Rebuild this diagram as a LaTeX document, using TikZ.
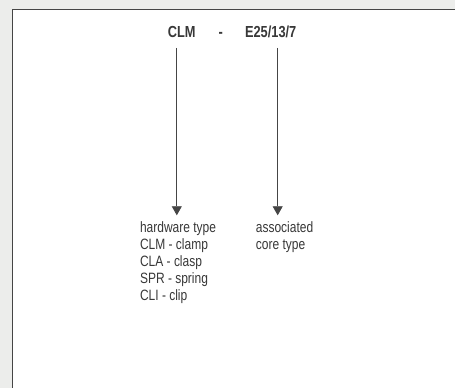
\documentclass[tikz,border=0pt]{standalone}
\usepackage{fontspec}
\setmainfont{Liberation Sans}[FakeStretch=0.8]
\usepackage{tikz}
\usetikzlibrary{arrows.meta, positioning, calc}

\definecolor{pagegrey}{HTML}{ECEDEB}
\definecolor{framegrey}{HTML}{454545}
\definecolor{inkgrey}{HTML}{383838}

\begin{document}
\begin{tikzpicture}[
  x=1pt, y=-1pt,
  titre/.style={
    inner sep=0pt, anchor=base, text=inkgrey,
    font=\fontsize{16}{18}\selectfont\bfseries
  },
  legende/.style={
    inner sep=0pt, anchor=north west, align=left, text=inkgrey,
    font=\fontsize{15}{17}\selectfont
  },
  fleche/.style={
    arrows={-Triangle[length=9pt, width=10pt]},
    draw=framegrey, line width=0.8pt,
    shorten >=6pt
  }
]

% ----- Cadre -----
\fill[pagegrey] (0,0) rectangle (455,388);
\fill[white] (13,10) rectangle (455,388);
\draw[framegrey, line width=1pt] (13,388) -- (13,10) -- (455,10);
\useasboundingbox (0,0) rectangle (455,388);

% ----- Code -----
\node[titre] (clm) at (182,38) {CLM};
\node[titre] (tiret) at (221,38) {-};
\node[titre] (noyau) at (271,38) {E25/13/7};

% ----- Legendes -----
\node[legende] (hw) at (140,221.5)
  {hardware type\\
   CLM - clamp\\
   CLA - clasp\\
   SPR - spring\\
   CLI - clip};
\node[legende] (assoc) at (256,221.5)
  {associated\\
   core type};

\coordinate (piedclm) at (177,48);
\coordinate (piednoyau) at (278,48);

\draw[fleche] (piedclm) -- (piedclm |- hw.north);
\draw[fleche] (piednoyau) -- (piednoyau |- assoc.north);

\end{tikzpicture}
\end{document}
